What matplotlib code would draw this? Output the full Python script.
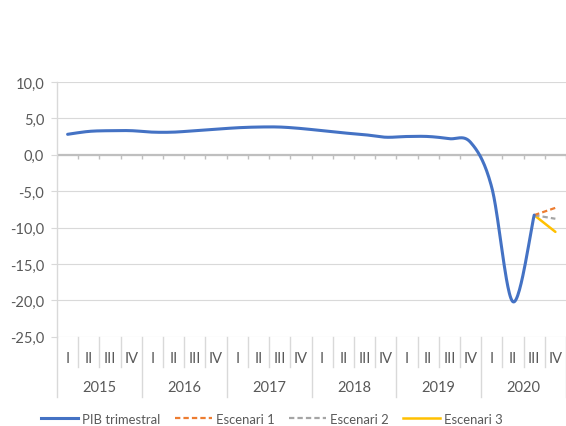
import numpy as np
import matplotlib
matplotlib.use("Agg")
import matplotlib.pyplot as plt
from matplotlib.lines import Line2D
from matplotlib.transforms import blended_transform_factory

plt.rcParams['font.family'] = ['Lato', 'DejaVu Sans']

# ---- data ----
years = ['2015', '2016', '2017', '2018', '2019', '2020']
quarters = ['I', 'II', 'III', 'IV']
pib = [2.8, 3.2, 3.3, 3.3,
       3.1, 3.1, 3.3, 3.5,
       3.7, 3.8, 3.8, 3.6,
       3.3, 3.0, 2.75, 2.4,
       2.5, 2.5, 2.2, 1.7,
       -4.5, -20.2, -8.3]
esc1 = [-8.3, -7.3]
esc2 = [-8.3, -8.8]
esc3 = [-8.3, -10.6]
esc_start = 22  # 2020 III
yticks = [-25, -20, -15, -10, -5, 0, 5, 10]

ncat = len(years) * len(quarters)
W, H = 566, 427

def fy(py):
    return (H - py) / H

fig = plt.figure(figsize=(W / 100, H / 100), dpi=100)
ax = fig.add_axes([57 / W, fy(337.7), 509 / W, (337.7 - 82.9) / H])
ax.set_xlim(-0.5, ncat - 0.5)
ax.set_ylim(min(yticks), max(yticks))

txt = '#595959'
grid = '#D9D9D9'

ax.set_yticks(yticks)
ax.set_yticklabels([f"{v:.1f}".replace('.', ',') for v in yticks])
ax.tick_params(axis='y', length=4.3, color=grid, labelcolor=txt, labelsize=10.5, pad=5, width=0.8)
ax.set_xticks([])
ax.grid(axis='y', color=grid, lw=0.8, zorder=0)
ax.set_axisbelow(True)
for s in ['top', 'right', 'bottom', 'left']:
    ax.spines[s].set_visible(False)

# zero axis with tick marks
ax.axhline(0, color='#BFBFBF', lw=1.6, zorder=1.5)
bounds = np.arange(ncat + 1) - 0.5
ax.vlines(bounds, -0.6, 0, color='#BFBFBF', lw=1.0, zorder=1.5)

# smoothed line (Excel-like bezier / Catmull-Rom)
def smooth(xs, ys, n=30):
    xs = np.asarray(xs, float); ys = np.asarray(ys, float)
    P = np.column_stack([xs, ys])
    out = [P[0]]
    for i in range(len(P) - 1):
        p0 = P[i - 1] if i > 0 else P[i]
        p1 = P[i]; p2 = P[i + 1]
        p3 = P[i + 2] if i + 2 < len(P) else P[i + 1]
        c1 = p1 + (p2 - p0) / 6
        c2 = p2 - (p3 - p1) / 6
        t = np.linspace(0, 1, n)[1:, None]
        seg = (1 - t) ** 3 * p1 + 3 * (1 - t) ** 2 * t * c1 + 3 * (1 - t) * t ** 2 * c2 + t ** 3 * p2
        out.extend(seg)
    out = np.array(out)
    return out[:, 0], out[:, 1]

xs = np.arange(len(pib))
sx, sy = smooth(xs, pib)
blue, orange, gray, gold = '#4472C4', '#ED7D31', '#A5A5A5', '#FFC000'
ex = np.arange(esc_start, esc_start + 2)
ax.plot(ex, esc3, color=gold, lw=1.8, zorder=3, solid_capstyle='round')
ax.plot(ex, esc2, color=gray, lw=1.6, ls=(0, (2.4, 1.4)), zorder=3)
ax.plot(ex, esc1, color=orange, lw=1.6, ls=(0, (2.4, 1.4)), zorder=3)
ax.plot(sx, sy, color=blue, lw=2.2, zorder=4, solid_capstyle='round')

# multi-level category axis below plot
tr = blended_transform_factory(ax.transData, fig.transFigure)
for i, b in enumerate(bounds):
    low = 398 if i % len(quarters) == 0 else 368
    ax.plot([b, b], [fy(338), fy(low)], color=grid, lw=1.0, transform=tr, clip_on=False)
# left axis line
ax.plot([-0.5, -0.5], [fy(82.9), fy(338)], color=grid, lw=1.0, transform=tr, clip_on=False)
for i in range(ncat):
    ax.text(i, fy(359), quarters[i % len(quarters)], transform=tr, ha='center', va='center',
            fontsize=10.5, color=txt)
for j, y in enumerate(years):
    c = j * len(quarters) + (len(quarters) - 1) / 2
    ax.text(c, fy(388), y, transform=tr, ha='center', va='center', fontsize=10.5, color=txt)

handles = [Line2D([], [], color=blue, lw=2.2),
           Line2D([], [], color=orange, lw=1.6, ls=(0, (2.4, 1.4))),
           Line2D([], [], color=gray, lw=1.6, ls=(0, (2.4, 1.4))),
           Line2D([], [], color=gold, lw=1.8)]
labels = ['PIB trimestral', 'Escenari 1', 'Escenari 2', 'Escenari 3']
leg = fig.legend(handles, labels, loc='center', bbox_to_anchor=(272 / W, fy(420)), ncol=4,
                 frameon=False, fontsize=9.4, handlelength=2.85, handletextpad=0.3,
                 columnspacing=1.1, borderaxespad=0, borderpad=0)
for t in leg.get_texts():
    t.set_color(txt)

fig.savefig('out.png', dpi=100)
